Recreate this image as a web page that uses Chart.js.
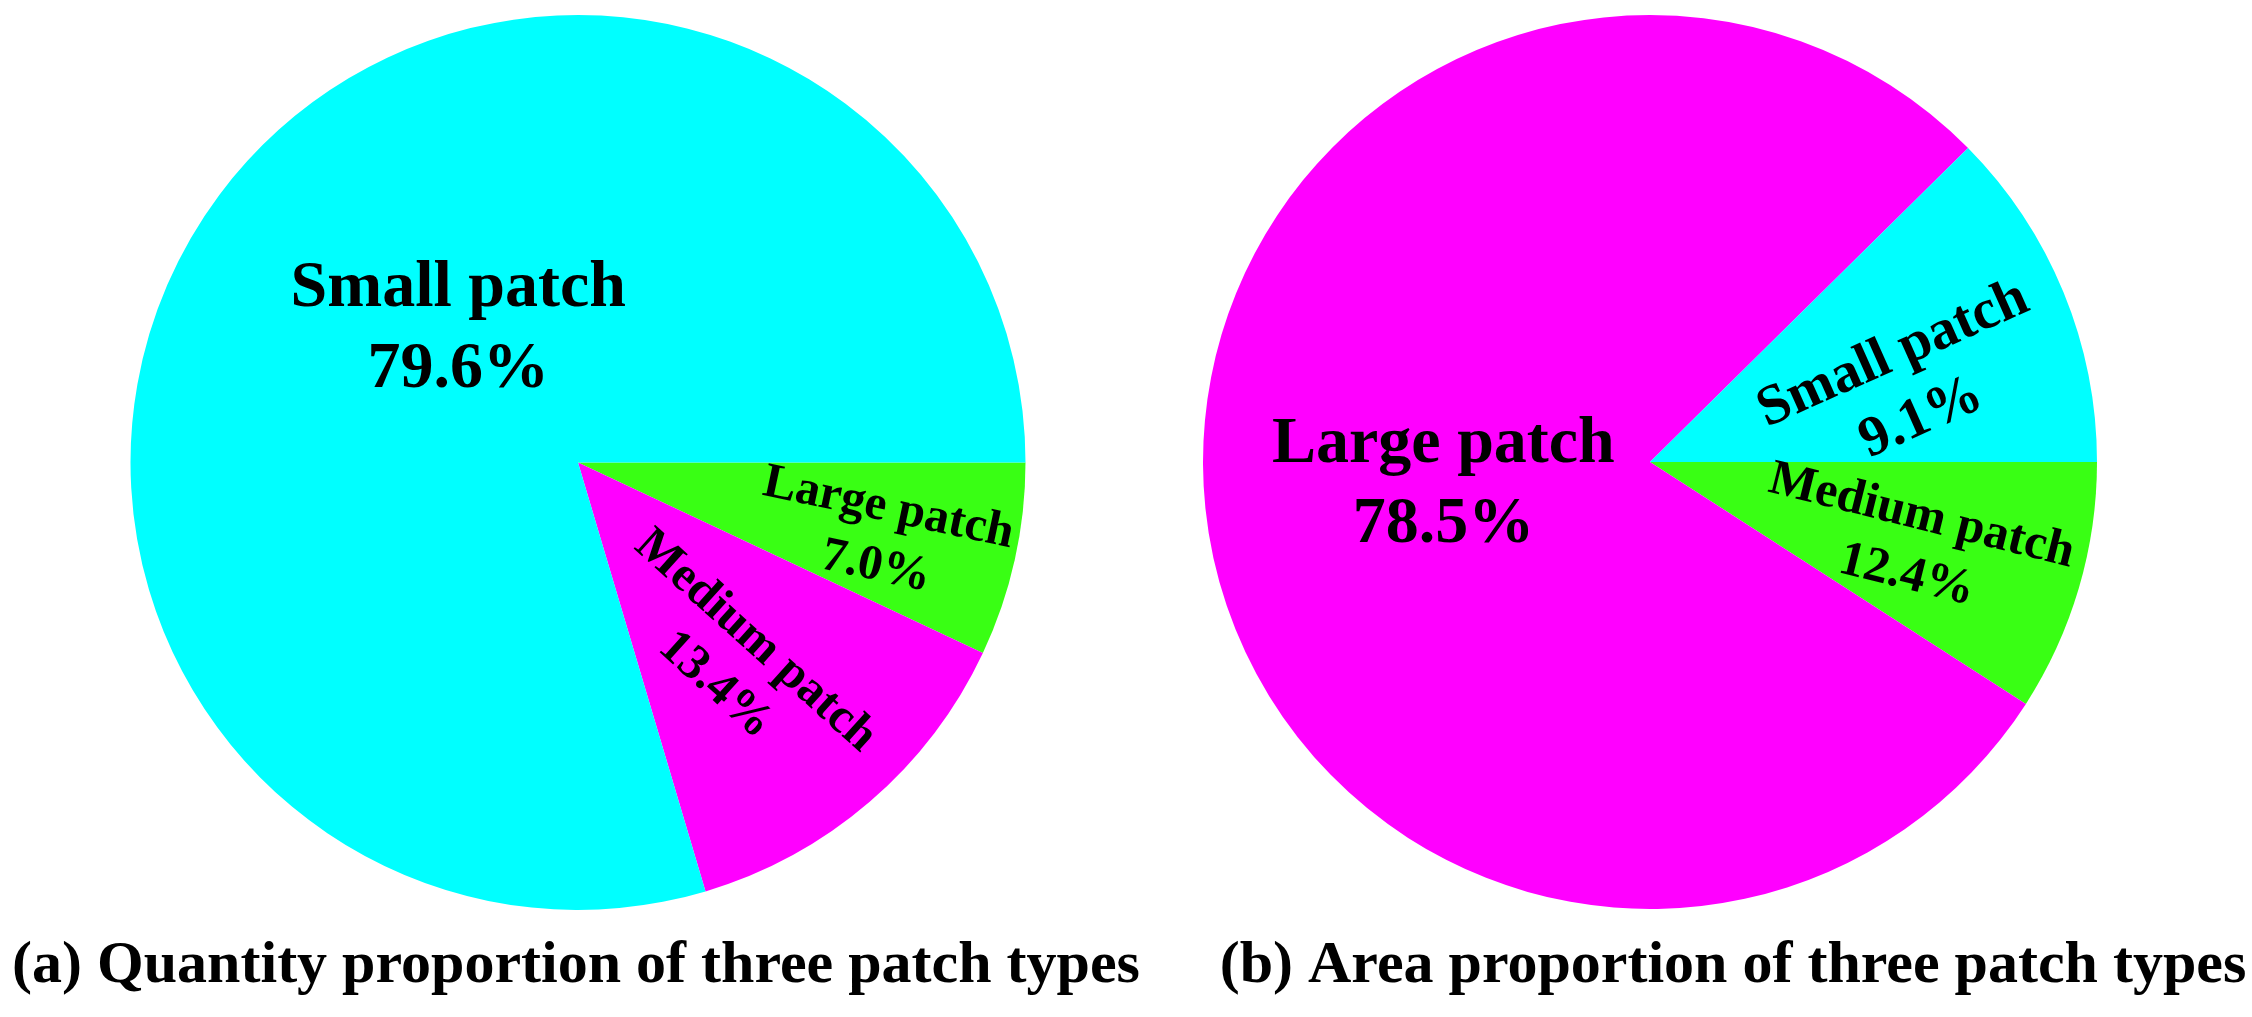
<!DOCTYPE html>
<html>
<head>
<meta charset="utf-8">
<script src="https://cdn.jsdelivr.net/npm/chart.js@4.4.0/dist/chart.umd.min.js"></script>
<style>
  html, body { margin: 0; padding: 0; background: #fff; }
  #wrap { position: relative; width: 2252px; height: 1017px; }
  canvas { position: absolute; top: 0; }
  #pieA { left: 0; }
  #pieB { left: 1126px; }
</style>
</head>
<body>
<div id="wrap">
  <canvas id="pieA" width="1160" height="1017"></canvas>
  <canvas id="pieB" width="1126" height="1017"></canvas>
</div>
<script>
// slice order is clockwise from 3 o'clock
const sliceColors = ['#39ff14', '#ff00ff', '#00ffff'];

// (a) quantity proportion
const qtyNames = ['Large patch', 'Medium patch', 'Small patch'];
const qtyValues = [7.0, 13.4, 79.6];
const qtyText = ['7.0%', '13.4%', '79.6%'];

// (b) area proportion (slice sizes as drawn, text as printed)
const areaNames = ['Medium patch', 'Large patch', 'Small patch'];
const areaValues = [9.1, 78.5, 12.4];
const areaText = ['12.4%', '78.5%', '9.1%'];

const titleA = '(a) Quantity proportion of three patch types';
const titleB = '(b) Area proportion of three patch types';

const FONT = '"Liberation Serif", "Times New Roman", serif';

// label layout per slice: angle offset from slice middle, radius fraction, text rotation, font size
const layoutA = [
  { dAng: 1.3, frac: 0.70, rot: 12, size: 49 },
  { dAng: 2.6, frac: 0.57, rot: 42, size: 49 },
  { dAng: 11.3, frac: 0.40, rot: 0, size: 66 }
];
const layoutB = [
  { dAng: 1.3, frac: 0.62, rot: 14, size: 50 },
  { dAng: -0.4, frac: 0.465, rot: 0, size: 66 },
  { dAng: 6.0, frac: 0.60, rot: -24, size: 57 }
];

const sliceLabels = {
  id: 'sliceLabels',
  afterDatasetsDraw(chart, args, opts) {
    const ctx = chart.ctx;
    const meta = chart.getDatasetMeta(0);
    meta.data.forEach((arc, i) => {
      const p = arc.getProps(['x', 'y', 'startAngle', 'endAngle', 'outerRadius']);
      const lay = opts.layout[i];
      const ang = (p.startAngle + p.endAngle) / 2 + lay.dAng * Math.PI / 180;
      const r = p.outerRadius * lay.frac;
      const cx = p.x + Math.cos(ang) * r;
      const cy = p.y + Math.sin(ang) * r;
      const lh = lay.size * 1.22;
      ctx.save();
      ctx.translate(cx, cy);
      ctx.rotate(lay.rot * Math.PI / 180);
      ctx.fillStyle = '#000';
      ctx.font = `bold ${lay.size}px ${FONT}`;
      ctx.textAlign = 'center';
      ctx.textBaseline = 'middle';
      ctx.fillText(opts.names[i], 0, -lh / 2);
      ctx.fillText(opts.text[i], 0, lh / 2);
      ctx.restore();
    });
    // caption under the pie
    ctx.save();
    ctx.fillStyle = '#000';
    ctx.font = `bold 60px ${FONT}`;
    ctx.textAlign = 'center';
    ctx.textBaseline = 'alphabetic';
    ctx.fillText(opts.title, opts.titleX, 982);
    ctx.restore();
  }
};

function makePie(id, values, names, text, layout, padding, title, titleX) {
  return new Chart(document.getElementById(id), {
    type: 'pie',
    data: {
      labels: names,
      datasets: [{
        data: values,
        backgroundColor: sliceColors,
        borderWidth: 0
      }]
    },
    options: {
      responsive: false,
      animation: false,
      rotation: 90,
      layout: { padding: padding },
      plugins: {
        legend: { display: false },
        tooltip: { enabled: false },
        sliceLabels: { layout: layout, names: names, text: text, title: title, titleX: titleX }
      }
    },
    plugins: [sliceLabels]
  });
}

makePie('pieA', qtyValues, qtyNames, qtyText, layoutA,
  { left: 130, right: 134, top: 15, bottom: 107 }, titleA, 576);
makePie('pieB', areaValues, areaNames, areaText, layoutB,
  { left: 77, right: 155, top: 15, bottom: 108 }, titleB, 607);
</script>
</body>
</html>
